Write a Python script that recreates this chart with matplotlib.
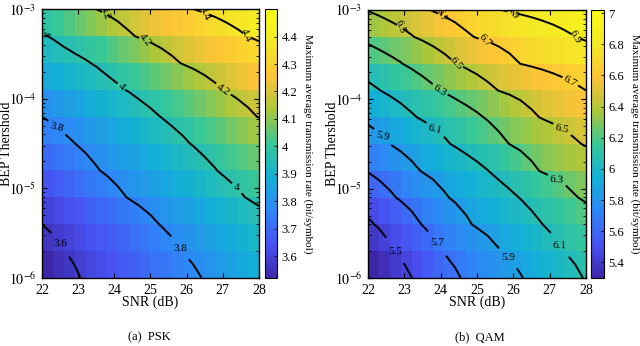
import numpy as np
import matplotlib
matplotlib.use('Agg')
import matplotlib.pyplot as plt
from matplotlib.colors import LinearSegmentedColormap
from matplotlib.ticker import LogLocator, NullFormatter, FixedLocator

plt.rcParams['font.family'] = ['Liberation Serif', 'DejaVu Serif']
plt.rcParams['mathtext.fontset'] = 'stix'

# grid of the simulation
snr = [22.0, 22.3, 22.6, 22.9, 23.2, 23.5, 23.8, 24.1, 24.4, 24.7, 25.0,
       25.3, 25.6, 25.9, 26.2, 26.5, 26.8, 27.1, 27.4, 27.7, 28.0]
bep_exp = [-6.0, -5.7, -5.4, -5.1, -4.8, -4.5, -4.2, -3.9, -3.6, -3.3, -3.0]

# rows: BEP threshold (low -> high), columns: SNR
rate_psk = [
    [3.520, 3.543, 3.566, 3.589, 3.609, 3.627, 3.645, 3.662, 3.680, 3.698, 3.716, 3.733, 3.751, 3.769, 3.787, 3.805, 3.824, 3.843, 3.862, 3.881, 3.900],
    [3.560, 3.579, 3.598, 3.617, 3.636, 3.654, 3.673, 3.691, 3.710, 3.728, 3.747, 3.765, 3.784, 3.803, 3.821, 3.839, 3.857, 3.875, 3.894, 3.912, 3.930],
    [3.600, 3.619, 3.637, 3.656, 3.674, 3.693, 3.711, 3.730, 3.748, 3.767, 3.785, 3.804, 3.822, 3.841, 3.859, 3.878, 3.896, 3.915, 3.933, 3.952, 3.970],
    [3.650, 3.669, 3.688, 3.708, 3.727, 3.746, 3.765, 3.785, 3.804, 3.822, 3.840, 3.859, 3.877, 3.895, 3.914, 3.932, 3.950, 3.969, 3.987, 4.005, 4.020],
    [3.700, 3.719, 3.737, 3.756, 3.775, 3.794, 3.812, 3.831, 3.849, 3.868, 3.886, 3.905, 3.923, 3.942, 3.960, 3.979, 3.997, 4.018, 4.038, 4.059, 4.080],
    [3.750, 3.766, 3.783, 3.799, 3.818, 3.837, 3.856, 3.874, 3.893, 3.912, 3.931, 3.950, 3.968, 3.987, 4.007, 4.029, 4.051, 4.074, 4.096, 4.118, 4.140],
    [3.800, 3.818, 3.837, 3.855, 3.873, 3.892, 3.910, 3.928, 3.947, 3.965, 3.983, 4.002, 4.025, 4.047, 4.070, 4.092, 4.115, 4.137, 4.160, 4.182, 4.204],
    [3.870, 3.887, 3.904, 3.921, 3.937, 3.954, 3.971, 3.988, 4.006, 4.029, 4.051, 4.073, 4.096, 4.118, 4.140, 4.163, 4.185, 4.207, 4.228, 4.249, 4.270],
    [3.930, 3.945, 3.961, 3.976, 3.991, 4.010, 4.035, 4.060, 4.084, 4.109, 4.133, 4.158, 4.183, 4.206, 4.225, 4.244, 4.263, 4.282, 4.302, 4.321, 4.340],
    [3.990, 4.010, 4.036, 4.061, 4.087, 4.112, 4.137, 4.163, 4.188, 4.210, 4.229, 4.249, 4.268, 4.287, 4.306, 4.325, 4.344, 4.364, 4.383, 4.402, 4.420],
    [4.070, 4.096, 4.122, 4.148, 4.174, 4.200, 4.222, 4.244, 4.267, 4.289, 4.311, 4.333, 4.356, 4.378, 4.400, 4.417, 4.433, 4.450, 4.467, 4.483, 4.500],
]

rate_qam = [
    [5.300, 5.350, 5.399, 5.449, 5.498, 5.544, 5.589, 5.635, 5.680, 5.719, 5.754, 5.789, 5.823, 5.858, 5.892, 5.928, 5.965, 6.001, 6.037, 6.074, 6.110],
    [5.389, 5.435, 5.482, 5.528, 5.574, 5.620, 5.666, 5.710, 5.746, 5.783, 5.819, 5.856, 5.893, 5.928, 5.963, 5.998, 6.033, 6.068, 6.103, 6.135, 6.168],
    [5.479, 5.516, 5.564, 5.611, 5.658, 5.705, 5.749, 5.793, 5.837, 5.881, 5.917, 5.947, 5.978, 6.008, 6.038, 6.068, 6.099, 6.134, 6.170, 6.205, 6.241],
    [5.590, 5.633, 5.676, 5.718, 5.760, 5.802, 5.843, 5.885, 5.920, 5.950, 5.981, 6.012, 6.042, 6.073, 6.105, 6.142, 6.180, 6.217, 6.255, 6.292, 6.319],
    [5.709, 5.749, 5.790, 5.830, 5.870, 5.908, 5.940, 5.972, 6.003, 6.035, 6.066, 6.098, 6.142, 6.186, 6.230, 6.274, 6.311, 6.337, 6.363, 6.389, 6.415],
    [5.823, 5.862, 5.901, 5.937, 5.972, 6.008, 6.044, 6.080, 6.116, 6.154, 6.191, 6.228, 6.266, 6.302, 6.333, 6.363, 6.394, 6.424, 6.455, 6.485, 6.511],
    [5.941, 5.977, 6.013, 6.048, 6.084, 6.118, 6.150, 6.183, 6.215, 6.247, 6.279, 6.315, 6.355, 6.396, 6.436, 6.477, 6.510, 6.534, 6.558, 6.582, 6.606],
    [6.065, 6.096, 6.131, 6.168, 6.205, 6.241, 6.278, 6.315, 6.353, 6.391, 6.429, 6.467, 6.503, 6.528, 6.553, 6.578, 6.603, 6.628, 6.653, 6.678, 6.700],
    [6.202, 6.233, 6.263, 6.294, 6.333, 6.374, 6.416, 6.457, 6.498, 6.533, 6.567, 6.601, 6.635, 6.669, 6.702, 6.721, 6.739, 6.758, 6.777, 6.795, 6.814],
    [6.350, 6.385, 6.421, 6.456, 6.492, 6.529, 6.566, 6.604, 6.641, 6.679, 6.709, 6.730, 6.752, 6.773, 6.794, 6.815, 6.836, 6.857, 6.878, 6.899, 6.922],
    [6.510, 6.543, 6.577, 6.610, 6.644, 6.677, 6.710, 6.741, 6.772, 6.803, 6.834, 6.865, 6.896, 6.913, 6.929, 6.944, 6.959, 6.974, 6.990, 7.005, 7.020],
]

levels_psk = [3.6, 3.8, 4.0, 4.2, 4.4]
levels_qam = [5.5, 5.7, 5.9, 6.1, 6.3, 6.5, 6.7, 6.9]
ticks_psk = [3.6, 3.7, 3.8, 3.9, 4.0, 4.1, 4.2, 4.3, 4.4]
ticks_qam = [5.4, 5.6, 5.8, 6.0, 6.2, 6.4, 6.6, 6.8, 7.0]

# where MATLAB placed the inline labels (SNR, log10 BEP)
labpos_psk = [(23.55, -3.05), (24.79, -3.35), (27.0, -3.90), (26.29, -3.05), (27.75, -3.29),
              (22.14, -3.27), (24.18, -3.87), (27.39, -5.02), (22.41, -4.32), (25.82, -5.69),
              (22.50, -5.61)]
labpos_qam = [(22.80, -3.19), (24.34, -3.62), (27.34, -4.37), (23.76, -3.06), (25.08, -3.36),
              (27.50, -3.84), (25.69, -3.04), (27.64, -3.30), (23.93, -3.92), (27.20, -4.94),
              (23.84, -4.38), (27.28, -5.65), (22.41, -4.38), (25.85, -5.80), (23.90, -5.69),
              (22.74, -5.72)]

# MATLAB parula approximation
parula = LinearSegmentedColormap.from_list('parula', [
    (0.2422, 0.1504, 0.6603), (0.2810, 0.3228, 0.9579), (0.1786, 0.5289, 0.9682),
    (0.0689, 0.6948, 0.8394), (0.2161, 0.7843, 0.5923), (0.6720, 0.7793, 0.2227),
    (0.9970, 0.7659, 0.2199), (0.9540, 0.9114, 0.1432), (0.9769, 0.9839, 0.0805)])

X, Y = np.meshgrid(snr, 10.0 ** np.array(bep_exp))

fig = plt.figure(figsize=(6.4, 3.46), dpi=100)
panels = [
    (rate_psk, levels_psk, ticks_psk, labpos_psk, [0.0656, 0.1965, 0.339, 0.777], [0.414, 0.1965, 0.019, 0.777], '(a)  PSK', 0.234),
    (rate_qam, levels_qam, ticks_qam, labpos_qam, [0.575, 0.1965, 0.3406, 0.7746], [0.9234, 0.1965, 0.0203, 0.7746], '(b)  QAM', 0.75),
]

for Z, levels, cticks, labpos, apos, cpos, caption, capx in panels:
    Z = np.array(Z)
    ax = fig.add_axes(apos)
    mesh = ax.pcolormesh(X, Y, Z[:-1, :-1], cmap=parula, shading='flat',
                         vmin=Z.min(), vmax=Z.max(), edgecolors='none')
    cs = ax.contour(X, Y, Z, levels=levels, colors='k', linewidths=1.4)
    try:
        ax.clabel(cs, fmt='%g', fontsize=8, inline=True, inline_spacing=2,
                  manual=[(s, 10.0 ** e) for s, e in labpos])
    except Exception:
        ax.clabel(cs, fmt='%g', fontsize=8, inline=True)
    ax.set_yscale('log')
    ax.set_xlim(22, 28)
    ax.set_ylim(1e-6, 1e-3)
    ax.set_xticks([22, 23, 24, 25, 26, 27, 28])
    ax.yaxis.set_major_locator(FixedLocator([1e-6, 1e-5, 1e-4, 1e-3]))
    ax.yaxis.set_major_formatter(plt.FuncFormatter(lambda v, p: r'$10^{%d}$' % round(np.log10(v))))
    ax.yaxis.set_minor_locator(LogLocator(base=10, subs=np.arange(2, 10)))
    ax.yaxis.set_minor_formatter(NullFormatter())
    ax.tick_params(which='both', direction='in', top=True, right=True, labelsize=10)
    ax.tick_params(which='major', length=3.5, width=0.8)
    ax.tick_params(which='minor', length=2, width=0.6)
    ax.tick_params(axis='x', pad=4)
    ax.tick_params(axis='y', pad=4)
    for sp in ax.spines.values():
        sp.set_linewidth(1.0)
    ax.set_xlabel('SNR (dB)', fontsize=10, labelpad=-1)
    ax.set_ylabel('BEP Thershold', fontsize=10, labelpad=-3)

    cax = fig.add_axes(cpos)
    cb = fig.colorbar(mesh, cax=cax, ticks=cticks)
    cb.ax.set_yticklabels(['%g' % t for t in cticks])
    cb.ax.tick_params(direction='in', length=2, width=0.6, labelsize=9, pad=3)
    cb.outline.set_linewidth(0.8)
    cb.set_label('Maximum average transmission rate (bit/symbol)', fontsize=8,
                 rotation=270, labelpad=11)

    fig.text(capx, 0.008, caption, ha='center', va='bottom', fontsize=9)

fig.savefig('out.png', dpi=100)
